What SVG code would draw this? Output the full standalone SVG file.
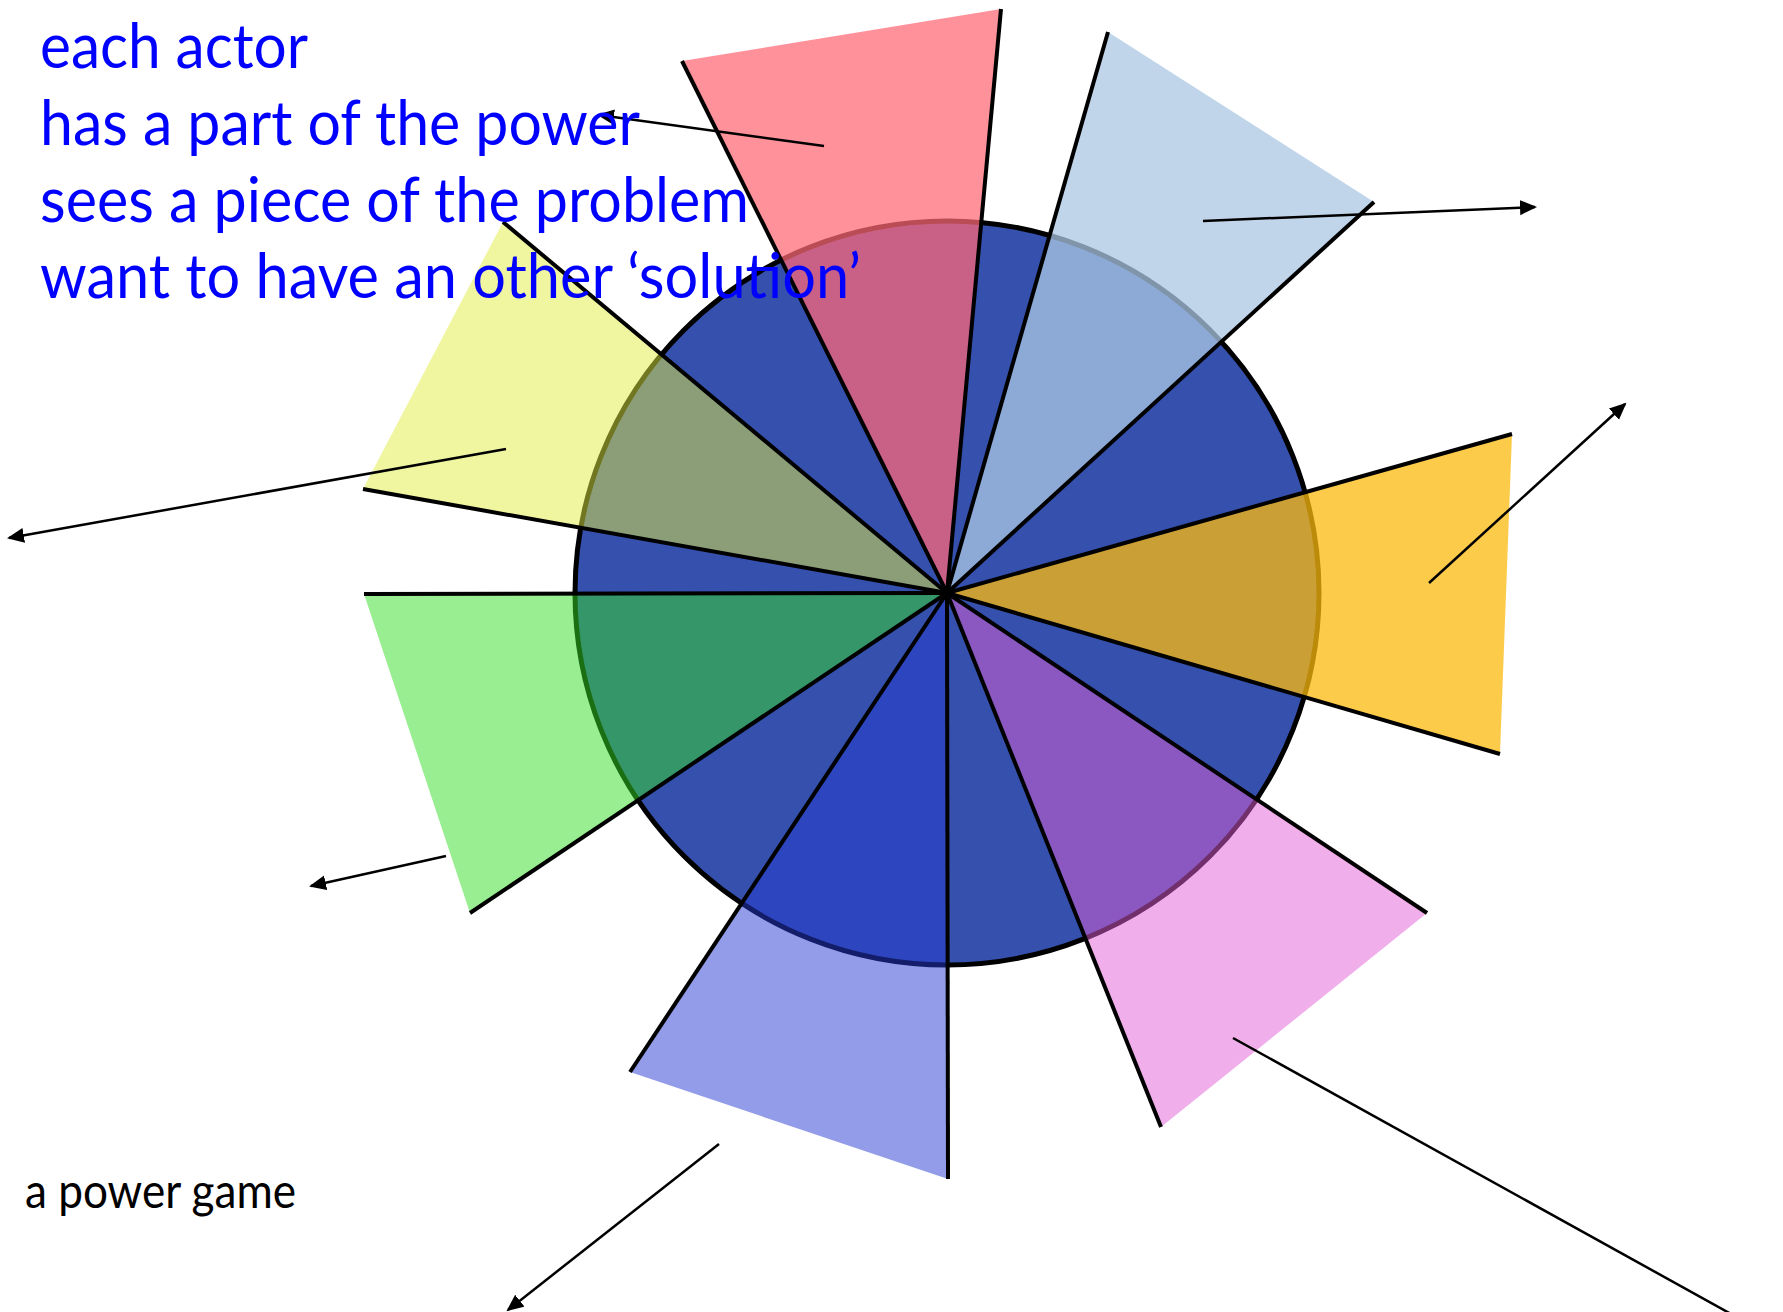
<svg xmlns="http://www.w3.org/2000/svg" width="1783" height="1312" viewBox="0 0 1783 1312">
<style>
.edge{stroke:#000;stroke-width:4;stroke-linecap:butt;fill:none}
.arr{stroke:#000;stroke-width:2.5;fill:none}
.t{font-family:Lato,"Open Sans",sans-serif;font-size:62px;fill:#0000FF}
.t2{font-family:Lato,"Open Sans",sans-serif;font-size:48px;fill:#000}
</style>
<defs>
<marker id="ah" markerUnits="userSpaceOnUse" markerWidth="18" markerHeight="16" refX="15" refY="7.5" orient="auto">
<path d="M0,0 L17,7.5 L0,15 z" fill="#000"/>
</marker>
</defs>
<rect width="1783" height="1312" fill="#fff"/>
<g id="circle"><circle cx="947" cy="593" r="372" fill="#3550AD" stroke="#000" stroke-width="5"/></g>
<g id="wedge-pink"><polygon points="947,593 682,61 1001,9" fill="#FF6876" opacity="0.73"/></g>
<g id="wedge-lightblue"><polygon points="947,593 1108,32 1374,202" fill="#ABC7E3" opacity="0.75"/></g>
<g id="wedge-yellow"><polygon points="947,593 503,222 363,489" fill="#E1EB41" opacity="0.5"/></g>
<g id="wedge-orange"><polygon points="947,593 1512,434 1500,754" fill="#FCBA0E" opacity="0.75"/></g>
<g id="wedge-green"><polygon points="947,593 364,594 470,913" fill="#35DD25" opacity="0.5"/></g>
<g id="wedge-periwinkle"><polygon points="947,593 630,1072 948,1179" fill="#2539D1" opacity="0.5"/></g>
<g id="wedge-magenta"><polygon points="947,593 1427,913 1161,1127" fill="#E15DD5" opacity="0.5"/></g>
<g id="edges">
<line class="edge" x1="947" y1="593" x2="682" y2="61"/>
<line class="edge" x1="947" y1="593" x2="1001" y2="9"/>
<line class="edge" x1="947" y1="593" x2="1108" y2="32"/>
<line class="edge" x1="947" y1="593" x2="1374" y2="202"/>
<line class="edge" x1="947" y1="593" x2="503" y2="222"/>
<line class="edge" x1="947" y1="593" x2="363" y2="489"/>
<line class="edge" x1="947" y1="593" x2="1512" y2="434"/>
<line class="edge" x1="947" y1="593" x2="1500" y2="754"/>
<line class="edge" x1="947" y1="593" x2="364" y2="594"/>
<line class="edge" x1="947" y1="593" x2="470" y2="913"/>
<line class="edge" x1="947" y1="593" x2="630" y2="1072"/>
<line class="edge" x1="947" y1="593" x2="948" y2="1179"/>
<line class="edge" x1="947" y1="593" x2="1427" y2="913"/>
<line class="edge" x1="947" y1="593" x2="1161" y2="1127"/>
</g>
<g id="connectors">
<line class="arr" x1="824" y1="146" x2="599" y2="115" marker-end="url(#ah)"/>
<line class="arr" x1="1203" y1="221" x2="1535" y2="207" marker-end="url(#ah)"/>
<line class="arr" x1="506" y1="449" x2="9" y2="538" marker-end="url(#ah)"/>
<line class="arr" x1="1429" y1="583" x2="1625" y2="404" marker-end="url(#ah)"/>
<line class="arr" x1="446" y1="856" x2="311" y2="886" marker-end="url(#ah)"/>
<line class="arr" x1="719" y1="1144" x2="508" y2="1310" marker-end="url(#ah)"/>
<line class="arr" x1="1233" y1="1038" x2="1778" y2="1340"/>
</g>
<g id="text">
<text class="t" x="40" y="68" textLength="268" lengthAdjust="spacingAndGlyphs">each actor</text>
<text class="t" x="40" y="145" textLength="600" lengthAdjust="spacingAndGlyphs">has a part of the power</text>
<text class="t" x="40" y="222" textLength="709" lengthAdjust="spacingAndGlyphs">sees a piece of the problem</text>
<text class="t" x="40" y="298" textLength="821" lengthAdjust="spacingAndGlyphs">want to have an other ‘solution’</text>
<text class="t2" x="25" y="1208" textLength="271" lengthAdjust="spacingAndGlyphs">a power game</text>
</g>
</svg>
